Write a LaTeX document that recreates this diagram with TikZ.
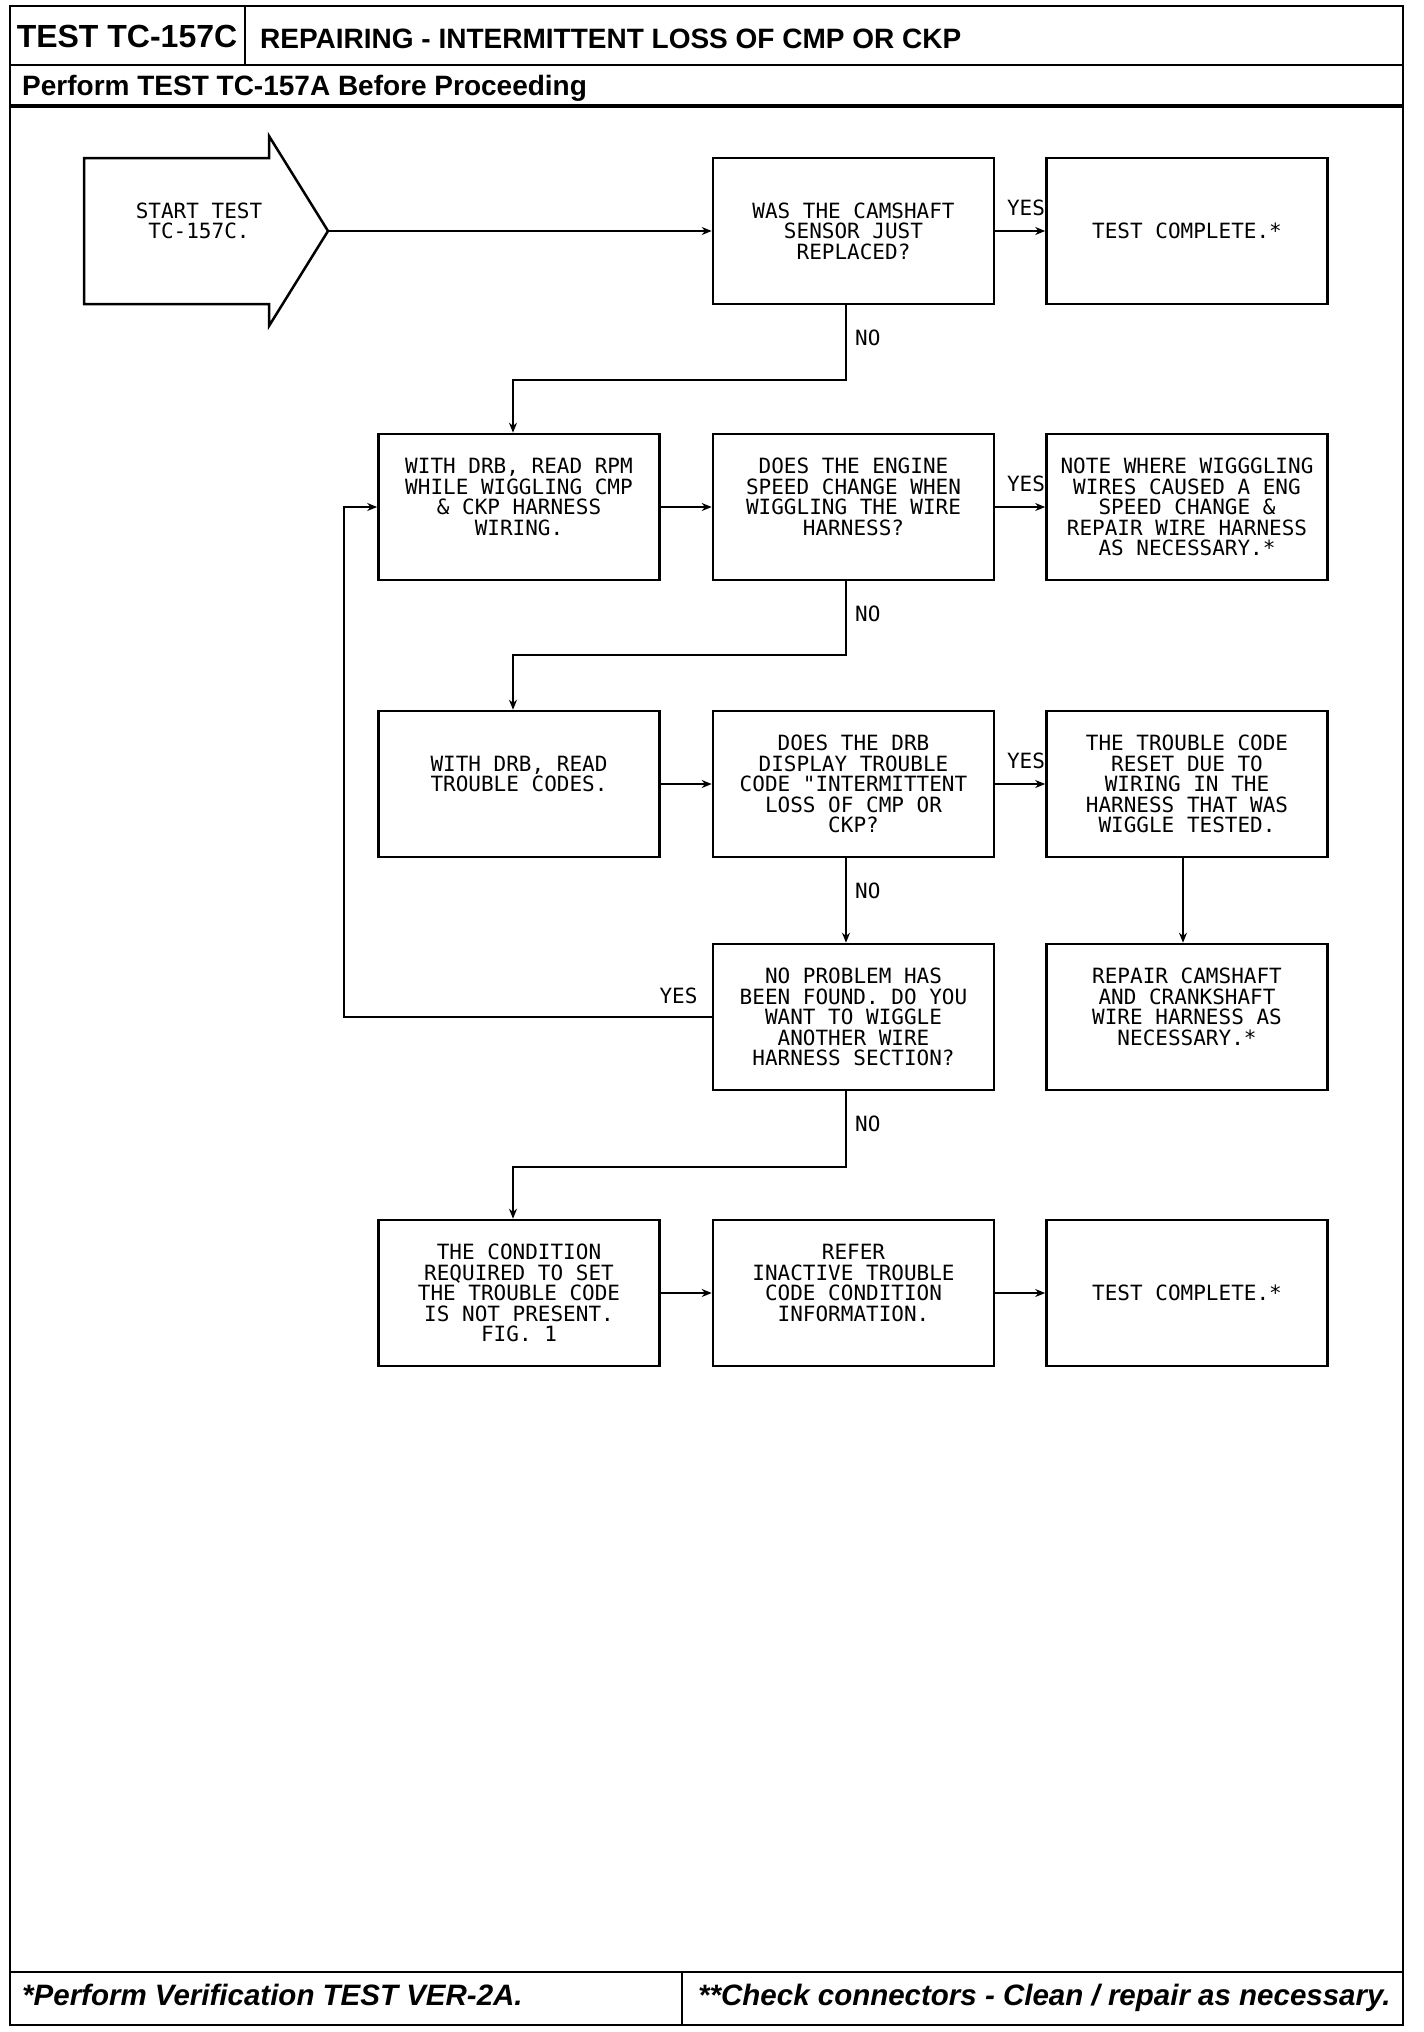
\documentclass[tikz,border=0pt]{standalone}
\usepackage{fontspec}
\setmainfont{Liberation Sans}
\newfontfamily\plotfont{DejaVu Sans Mono}
\usetikzlibrary{arrows.meta}
\begin{document}
\begin{tikzpicture}[x=1pt,y=-1pt,
  box/.style={draw, line width=2.6pt, minimum width=281pt, minimum height=146pt, inner sep=0pt, align=center, font=\plotfont\fontsize{21}{20.5}\selectfont},
  conn/.style={line width=2.2pt, -{Stealth[length=10pt,width=8pt]}},
  frame/.style={line width=2.5pt},
  lbl/.style={font=\plotfont\fontsize{21}{21}\selectfont, inner sep=0pt},
  head/.style={inner sep=0pt, font=\bfseries\fontsize{#1}{#1}\selectfont},
  foot/.style={inner sep=0pt, anchor=base west, font=\bfseries\itshape\fontsize{29.5}{29.5}\selectfont},
]
\useasboundingbox (0,0) rectangle (1424,2032);
% frame and header/footer
\draw[frame] (10,6) rectangle (1403,2025);
\draw[frame] (245,6) -- (245,65);
\draw[frame] (10,65) -- (1403,65);
\draw[line width=4pt] (10,106) -- (1403,106);
\draw[frame] (10,1972) -- (1403,1972);
\draw[frame] (682,1972) -- (682,2025);
\node[head=32, anchor=base] (tt) at (127,47) {TEST TC-157C};
\node[head=28, anchor=base west] (ttl) at (260,48) {REPAIRING - INTERMITTENT LOSS OF CMP OR CKP};
\node[head=28, anchor=base west] (pre) at (22,95) {Perform TEST TC-157A Before Proceeding};
\node[foot] (f1) at (22,2005) {*Perform Verification TEST VER-2A.};
\node[foot] (f2) at (698,2005) {**Check connectors - Clean / repair as necessary.};
% start arrow
\draw[frame, line join=miter] (269,158) -- (84,158) -- (84,304) -- (269,304) -- (269,326) -- (328,231) coordinate (startpt) -- (269,136) -- cycle;
\node[box, draw=none, minimum width=0pt, minimum height=0pt] (starttxt) at (199,231) {START TEST\\TC-157C.\\~};
% boxes
\node[box] (r1b) at (853.5,231) {WAS THE CAMSHAFT\\SENSOR JUST\\REPLACED?};
\node[box] (r1c) at (1187,231) {TEST COMPLETE.*};
\node[box] (r2a) at (519,507) {WITH DRB, READ RPM\\WHILE WIGGLING CMP\\\& CKP HARNESS\\WIRING.\\~};
\node[box] (r2b) at (853.5,507) {DOES THE ENGINE\\SPEED CHANGE WHEN\\WIGGLING THE WIRE\\HARNESS?\\~};
\node[box] (r2c) at (1187,507) {NOTE WHERE WIGGGLING\\WIRES CAUSED A ENG\\SPEED CHANGE \&\\REPAIR WIRE HARNESS\\AS NECESSARY.*};
\node[box] (r3a) at (519,784) {WITH DRB, READ\\TROUBLE CODES.\\~};
\node[box] (r3b) at (853.5,784) {DOES THE DRB\\DISPLAY TROUBLE\\CODE "INTERMITTENT\\LOSS OF CMP OR\\CKP?};
\node[box] (r3c) at (1187,784) {THE TROUBLE CODE\\RESET DUE TO\\WIRING IN THE\\HARNESS THAT WAS\\WIGGLE TESTED.};
\node[box] (r4b) at (853.5,1017) {NO PROBLEM HAS\\BEEN FOUND. DO YOU\\WANT TO WIGGLE\\ANOTHER WIRE\\HARNESS SECTION?};
\node[box] (r4c) at (1187,1017) {REPAIR CAMSHAFT\\AND CRANKSHAFT\\WIRE HARNESS AS\\NECESSARY.*\\~};
\node[box] (r5a) at (519,1293) {THE CONDITION\\REQUIRED TO SET\\THE TROUBLE CODE\\IS NOT PRESENT.\\FIG. 1};
\node[box] (r5b) at (853.5,1293) {REFER\\INACTIVE TROUBLE\\CODE CONDITION\\INFORMATION.\\~};
\node[box] (r5c) at (1187,1293) {TEST COMPLETE.*};
% connectors row 1
\draw[conn] (startpt) -- (r1b.west);
\draw[conn] (r1b.east) -- (r1c.west);
\node[lbl, anchor=base east] (y1) at ([yshift=16pt]r1c.west) {YES};
\draw[conn] ([xshift=-7.5pt]r1b.south) -- ++(0,75) -| ([xshift=-6pt]r2a.north);
\node[lbl, anchor=base west] (n1) at ([xshift=1.5pt,yshift=-40pt]r1b.south) {NO};
% row 2
\draw[conn] (r2a.east) -- (r2b.west);
\draw[conn] (r2b.east) -- (r2c.west);
\node[lbl, anchor=base east] (y2) at ([yshift=16pt]r2c.west) {YES};
\draw[conn] ([xshift=-7.5pt]r2b.south) -- ++(0,74) -| ([xshift=-6pt]r3a.north);
\node[lbl, anchor=base west] (n2) at ([xshift=1.5pt,yshift=-40pt]r2b.south) {NO};
% row 3
\draw[conn] (r3a.east) -- (r3b.west);
\draw[conn] (r3b.east) -- (r3c.west);
\node[lbl, anchor=base east] (y3) at ([yshift=16pt]r3c.west) {YES};
\draw[conn] ([xshift=-7.5pt]r3b.south) -- ([xshift=-7.5pt]r4b.north);
\node[lbl, anchor=base west] (n3) at ([xshift=1.5pt,yshift=-40pt]r3b.south) {NO};
\draw[conn] ([xshift=-4pt]r3c.south) -- ([xshift=-4pt]r4c.north);
% row 4
\draw[conn] (r4b.west) -- ++(-368,0) |- (r2a.west);
\node[lbl, anchor=base east] (y4) at ([xshift=-14pt,yshift=14pt]r4b.west) {YES};
\draw[conn] ([xshift=-7.5pt]r4b.south) -- ++(0,76) -| ([xshift=-6pt]r5a.north);
\node[lbl, anchor=base west] (n4) at ([xshift=1.5pt,yshift=-40pt]r4b.south) {NO};
% row 5
\draw[conn] (r5a.east) -- (r5b.west);
\draw[conn] (r5b.east) -- (r5c.west);
\end{tikzpicture}
\end{document}
